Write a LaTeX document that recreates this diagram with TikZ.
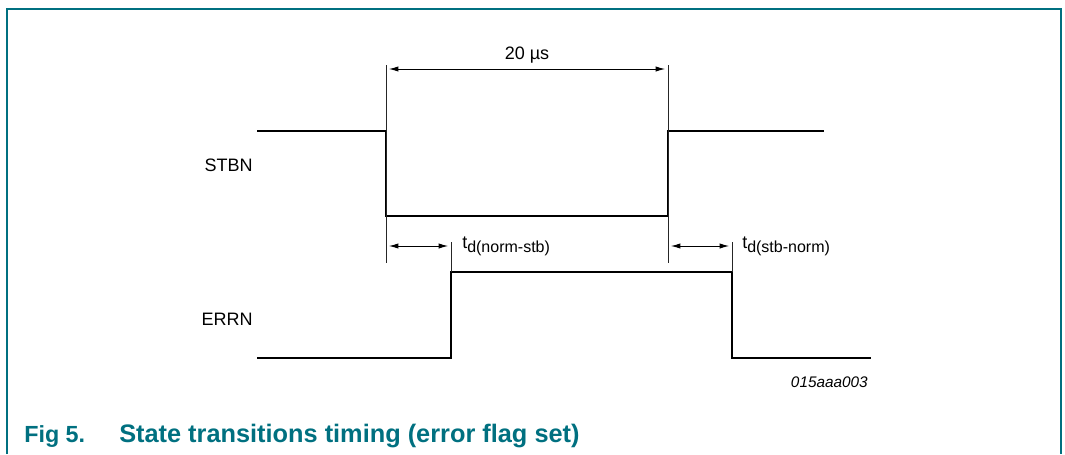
\documentclass[tikz,border=0pt]{standalone}
\usepackage{fontspec}
\setmainfont{Liberation Sans}
\usepackage{xcolor}
\usetikzlibrary{
    arrows.meta,
    positioning,
    calc
}
\definecolor{figteal}{RGB}{0, 112, 128}

\begin{document}
\begin{tikzpicture}[
        x=0.75pt, y=-0.75pt,
        signal/.style={line width=2.2pt, line join=miter, line cap=rect},
        extline/.style={line width=0.6pt, black!85},
        dimarrow/.style={{Latex[length=7pt,width=4pt]}-{Latex[length=7pt,width=4pt]}, line width=0.6pt, shorten <=2.25pt, shorten >=2.25pt},
        lbl/.style={font=\fontsize{13.5}{16}\selectfont, inner sep=0pt},
        tdlbl/.style={lbl, anchor=base west},
        caption/.style={font=\fontsize{17.5}{20}\bfseries\selectfont, text=figteal, inner sep=0pt, anchor=base west}
    ]
        \useasboundingbox (0,0) rectangle (1065,454);

        % Frame
        \coordinate (fbl) at (7,454);
        \coordinate (ftr) at (1061,9);
        \coordinate (fbr) at (1061,454);
        \draw[figteal, line width=1.1pt] (fbl) |- (ftr) -- (fbr);

        % Row 1: STBN
        \coordinate (s0) at (258,131);
        \coordinate (s1) at (386,131);
        \coordinate (s2) at (386,216);
        \coordinate (s3) at (668,216);
        \coordinate (s4) at (668,131);
        \coordinate (s5) at (823,131);
        \draw[signal] (s0) -- (s1) -- (s2) -- (s3) -- (s4) -- (s5);
        \node[lbl, anchor=east] (stbn) at (253,165) {STBN};

        % Row 2: ERRN
        \coordinate (e0) at (258,358);
        \coordinate (e1) at (451,358);
        \coordinate (e2) at (451,272);
        \coordinate (e3) at (732,272);
        \coordinate (e4) at (732,358);
        \coordinate (e5) at (870,358);
        \draw[signal] (e0) -- (e1) -- (e2) -- (e3) -- (e4) -- (e5);
        \node[lbl, anchor=east] (errn) at (253,319) {ERRN};

        % Extension lines
        \coordinate (x1t) at (386,65);
        \coordinate (x1b) at (386,263);
        \coordinate (x2t) at (668,65);
        \coordinate (x2b) at (668,263);
        \coordinate (x3t) at (451,242);
        \coordinate (x4t) at (732,242);
        \draw[extline] (x1t) -- (x1b);
        \draw[extline] (x2t) -- (x2b);
        \draw[extline] (x3t) -- (e2);
        \draw[extline] (x4t) -- (e3);

        % Dimension arrows
        \coordinate (d1a) at (386,69);
        \coordinate (d1b) at (668,69);
        \coordinate (d2a) at (386,246);
        \coordinate (d2b) at (451,246);
        \coordinate (d3a) at (668,246);
        \coordinate (d3b) at (732,246);
        \draw[dimarrow] (d1a) -- (d1b);
        \draw[dimarrow] (d2a) -- (d2b);
        \draw[dimarrow] (d3a) -- (d3b);

        % Labels
        \node[lbl, anchor=base] (pulse) at (527,59) {20 µs};
        \node[tdlbl] (tdns) at (462,248) {t\raisebox{-3.4pt}{\fontsize{12}{14}\selectfont d(norm-stb)}};
        \node[tdlbl] (tdsn) at (742,248) {t\raisebox{-3.4pt}{\fontsize{12}{14}\selectfont d(stb-norm)}};
        \node[lbl, font=\fontsize{11.5}{14}\itshape\selectfont, anchor=base east] (code) at (868,387) {015aaa003};

        % Caption
        \node[caption] (fignum) at (24,442) {Fig 5.};
        \node[caption, font=\fontsize{19}{22}\bfseries\selectfont] (figtitle) at (119,442) {State transitions timing (error flag set)};
    \end{tikzpicture}
\end{document}
